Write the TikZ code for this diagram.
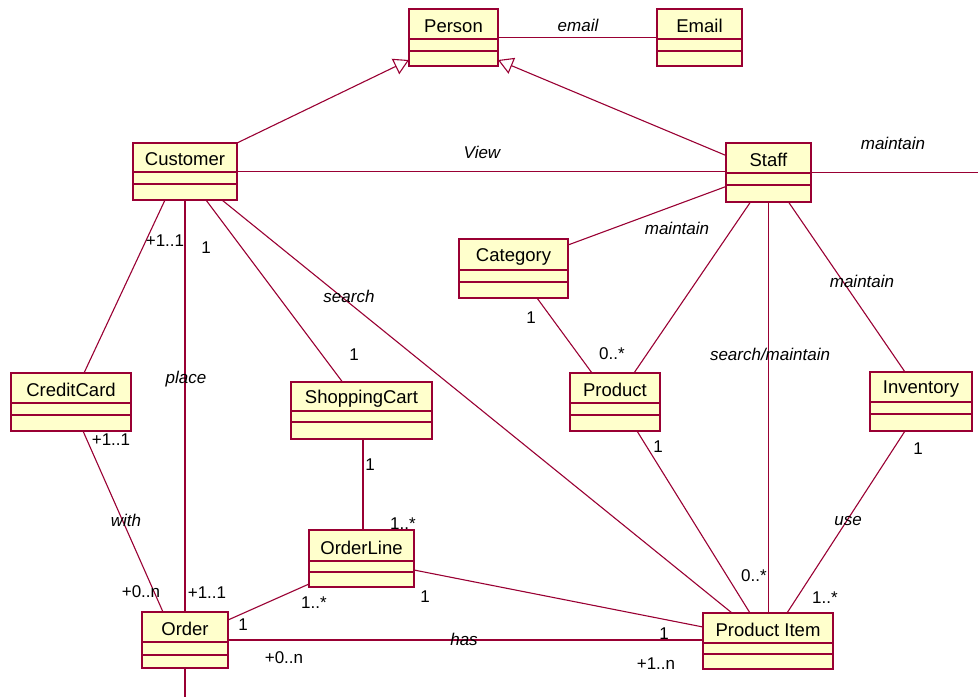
\documentclass[tikz,border=0pt]{standalone}
\usepackage{fontspec}
\setmainfont{Liberation Sans}
\usetikzlibrary{arrows.meta,calc}
\definecolor{umlline}{RGB}{153,0,51}
\definecolor{umlfill}{RGB}{255,255,204}
\tikzset{
  classbox/.style={draw=umlline, fill=umlfill, line width=1.6pt, inner sep=0pt, outer sep=0pt},
  classline/.style={draw=umlline, line width=1.2pt},
  classname/.style={font=\fontsize{18.5}{22}\selectfont, inner sep=0pt},
  assoc/.style={draw=umlline, line width=1.1pt},
  inherit/.style={assoc, -{Triangle[open, length=15pt, width=17pt, line width=1.1pt]}},
  rolelabel/.style={font=\fontsize{17}{20}\selectfont\itshape, inner sep=0pt},
  mult/.style={font=\fontsize{17}{20}\selectfont, inner sep=0pt},
}
% name, left, top, right, bottom, first divider, second divider, title
\newcommand{\umlclass}[8]{%
  \node[classbox, minimum width={(#4-#2)*1pt}, minimum height={(#5-#3)*1pt}]
    (#1) at ({(#2+#4)/2},{(#3+#5)/2}) {};
  \draw[classline] (#2,#6) -- (#4,#6) (#2,#7) -- (#4,#7);
  \node[classname] (#1-title) at ({(#2+#4)/2},{(#3+#6)/2+2}) {#8};
}
\begin{document}
\begin{tikzpicture}[x=1pt, y=-1pt]
\useasboundingbox (0,0) rectangle (978,697);

\coordinate (rightend) at (978,172.5);
\coordinate (bottomend) at (185,697);

% classes
\umlclass{person}{409}{9}{498}{66}{39}{51}{Person}
\umlclass{email}{657}{9}{742}{66}{39}{51}{Email}
\umlclass{customer}{133}{143}{237}{200}{172}{184}{Customer}
\umlclass{staff}{726}{143}{811}{202}{173}{185}{Staff}
\umlclass{category}{459}{239}{568}{298}{270}{282}{Category}
\umlclass{creditcard}{11}{373}{131}{431}{403}{415}{CreditCard}
\umlclass{shoppingcart}{291}{382}{432}{439}{411}{422}{ShoppingCart}
\umlclass{product}{570}{373}{660}{431}{403}{415}{Product}
\umlclass{inventory}{870}{372}{972}{431}{402}{414}{Inventory}
\umlclass{orderline}{309}{530}{414}{587}{561}{572}{OrderLine}
\umlclass{order}{142}{612}{228}{668}{642}{655}{Order}
\umlclass{productitem}{703}{613}{833}{669}{643}{654}{Product Item}

% generalisations
\draw[inherit] (customer.north east) -- ([yshift=6pt]person.south west);
\draw[inherit] ([yshift=17pt]staff.west) -- ([yshift=6pt]person.south east);

% associations
\draw[assoc] (person.east) -- (email.west);
\draw[assoc] (customer.east) -- (customer.east -| staff.west);
\draw[assoc] (staff.east) -- (rightend);
\draw[assoc] ([yshift=-14pt]staff.west) -- ([yshift=-6pt]category.north east);
\draw[assoc] ([xshift=-18pt]staff.south) -- ([xshift=19pt]product.north);
\draw[assoc] (staff.south) -- (staff.south |- productitem.north);
\draw[assoc] ([xshift=20pt]staff.south) -- ([xshift=-16pt]inventory.north);
\draw[assoc] ([xshift=-20pt]customer.south) -- ([xshift=13pt]creditcard.north);
\draw[assoc] (customer.south) -- (order.north);
\draw[assoc] ([xshift=21pt]customer.south) -- ([xshift=-19pt]shoppingcart.north);
\draw[assoc] ([xshift=37pt]customer.south) -- ([xshift=-36pt]productitem.north);
\draw[assoc] ([xshift=12pt]creditcard.south) -- ([xshift=-22pt]order.north);
\draw[assoc] ([xshift=1.5pt]shoppingcart.south) -- ([xshift=1.5pt]orderline.north);
\draw[assoc] ([yshift=-25.5pt]orderline.west) -- ([yshift=20pt]order.east);
\draw[assoc] ([yshift=-11.5pt]orderline.east) -- ([yshift=14pt]productitem.west);
\draw[assoc] (order.east) -- (order.east -| productitem.west);
\draw[assoc] ([xshift=22pt]product.south) -- ([xshift=-18pt]productitem.north);
\draw[assoc] ([xshift=23.5pt]category.south) -- ([xshift=-23pt]product.north);
\draw[assoc] ([xshift=-16pt]inventory.south) -- ([xshift=19pt]productitem.north);
\draw[assoc] (order.south) -- (bottomend);

% role names
\node[rolelabel] (l-email) at (578,25) {email};
\node[rolelabel] (l-view) at (482,152) {View};
\node[rolelabel] (l-maint1) at (893,143) {maintain};
\node[rolelabel] (l-maint2) at (677,228) {maintain};
\node[rolelabel] (l-maint3) at (862,281) {maintain};
\node[rolelabel] (l-search) at (349,296) {search};
\node[rolelabel] (l-searchm) at (770,354) {search/maintain};
\node[rolelabel] (l-place) at (186,379) {place};
\node[rolelabel] (l-with) at (126,520) {with};
\node[rolelabel] (l-has) at (464,639) {has};
\node[rolelabel] (l-use) at (848,521) {use};

% multiplicities
\node[mult] (m1) at (165,241) {+1..1};
\node[mult] (m2) at (206,248) {1};
\node[mult] (m3) at (354,355) {1};
\node[mult] (m4) at (531,318) {1};
\node[mult] (m5) at (612,354) {0..*};
\node[mult] (m6) at (111,440) {+1..1};
\node[mult] (m7) at (370,465) {1};
\node[mult] (m8) at (403,524) {1..*};
\node[mult] (m9) at (658,447) {1};
\node[mult] (m10) at (918,449) {1};
\node[mult] (m11) at (141,592) {+0..n};
\node[mult] (m12) at (207,593) {+1..1};
\node[mult] (m13) at (314,603) {1..*};
\node[mult] (m14) at (243,625) {1};
\node[mult] (m15) at (425,597) {1};
\node[mult] (m16) at (754,576) {0..*};
\node[mult] (m17) at (825,598) {1..*};
\node[mult] (m18) at (664,634) {1};
\node[mult] (m19) at (284,658) {+0..n};
\node[mult] (m20) at (656,664) {+1..n};
\end{tikzpicture}
\end{document}
